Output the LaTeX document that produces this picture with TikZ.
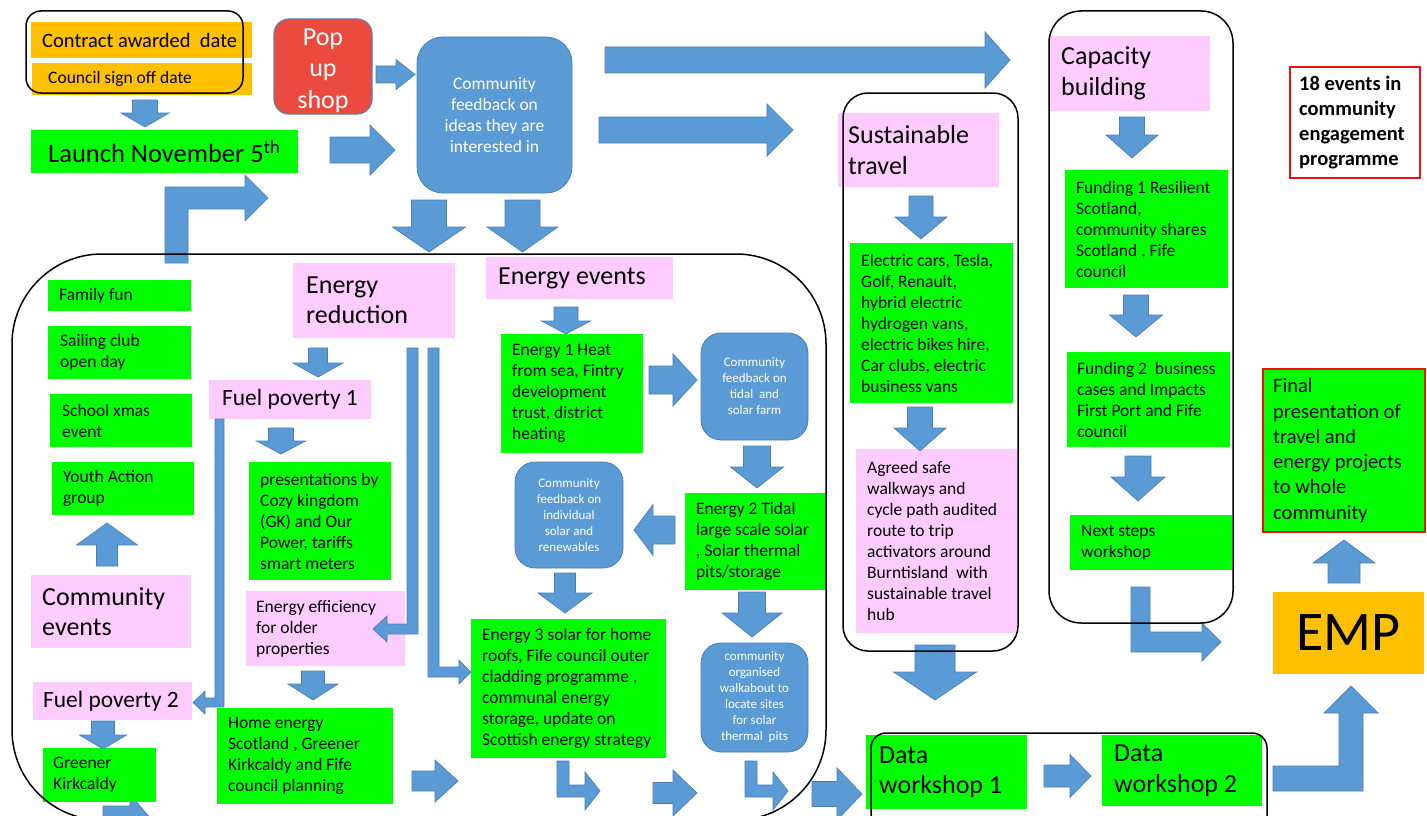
\documentclass[tikz,border=0pt]{standalone}
\usepackage{fontspec}
\setmainfont{Carlito}
\definecolor{boxgreen}{HTML}{00FF00}
\definecolor{boxpink}{HTML}{FFCCFF}
\definecolor{boxorange}{HTML}{FFC000}
\definecolor{arrowblue}{HTML}{5B9BD5}
\definecolor{arrowedge}{HTML}{4A7EBB}
\definecolor{popred}{HTML}{EC4A3E}
\definecolor{popedge}{HTML}{5F7FA8}
\definecolor{framered}{HTML}{F01010}

\tikzset{
  blockarrow/.style={fill=arrowblue, draw=arrowedge, line width=0.7pt, line join=miter},
  frame/.style={draw=black, line width=1.5pt},
  plain/.style={draw=none, inner sep=0pt, outer sep=0pt},
  greenbox/.style={plain, fill=boxgreen},
  pinkbox/.style={plain, fill=boxpink},
  orangebox/.style={plain, fill=boxorange},
  whitered/.style={plain, fill=white, draw=framered, line width=1.2pt},
  greenred/.style={plain, fill=boxgreen, draw=framered, line width=1.2pt},
  bluebox/.style={plain, fill=arrowblue, draw=arrowedge, line width=0.8pt, text=white},
  popbox/.style={plain, fill=popred, draw=popedge, line width=1.2pt, rounded corners=15pt},
  small/.style={font=\fontsize{17.5}{21}\selectfont},
  tinytxt/.style={font=\fontsize{13}{16}\selectfont},
  midtxt/.style={font=\fontsize{23.4}{28}\selectfont},
  large/.style={font=\fontsize{26}{30.5}\selectfont},
  txtcontract/.style={font=\fontsize{20.5}{25}\selectfont},
  txtlaunch/.style={font=\fontsize{26.5}{31}\selectfont},
  txtfinal/.style={font=\fontsize{20.5}{25.3}\selectfont},
  txtbold/.style={font=\fontsize{20.5}{25}\selectfont\bfseries},
}

% horizontal block arrow: shaft start, head base, tip, centre line, half shaft, half head
\newcommand\arrH[6]{\path[blockarrow] (#1,#4-#5) -- (#2,#4-#5) -- (#2,#4-#6) -- (#3,#4) -- (#2,#4+#6) -- (#2,#4+#5) -- (#1,#4+#5) -- cycle;}
% vertical block arrow: same parameters along y
\newcommand\arrV[6]{\path[blockarrow] (#4-#5,#1) -- (#4-#5,#2) -- (#4-#6,#2) -- (#4,#3) -- (#4+#6,#2) -- (#4+#5,#2) -- (#4+#5,#1) -- cycle;}
% filled box with left aligned text: name, x1, y1, x2, y2, box style, text inset, text style, text
\newcommand\tbox[9]{%
  \node[#6, anchor=north west, minimum width={(#4)-(#2)}, minimum height={(#5)-(#3)}] (#1) at (#2,#3) {};
  \node[anchor=west, align=left, inner sep=0pt, #8] (#1-t) at ([xshift=#7pt]#1.west) {#9};}
% box with centred text: name, x1, y1, x2, y2, style, text
\newcommand\cbox[7]{%
  \node[#6, anchor=north west, align=center, minimum width={(#4)-(#2)}, minimum height={(#5)-(#3)}] (#1) at (#2,#3) {#7};}

\begin{document}
\begin{tikzpicture}[x=1pt, y=-1pt]
\useasboundingbox (0,0) rectangle (1427,816);
\clip (0,0) rectangle (1427,816);

% arrow leaving Greener Kirkcaldy (mostly hidden)
\arrH{103}{130}{150}{818}{12}{24}

% ---- start of programme
\tbox{contract}{31}{22}{252}{58}{orangebox}{11}{txtcontract}{Contract awarded\ \ date}
\tbox{signoff}{32}{63}{252}{95}{orangebox}{16}{small}{Council sign off date}
\tbox{launch}{31}{130}{298}{173}{greenbox}{17}{txtlaunch}{Launch November 5\textsuperscript{th}}
\cbox{pop}{274}{19}{372}{114}{popbox}{}
\node[align=center, inner sep=0pt, text=white, font=\fontsize{26}{31.5}\selectfont] (pop-t) at ([yshift=-4pt]pop.center) {Pop\\up\\shop};
\cbox{cf}{417}{37}{572}{193}{bluebox, rounded corners=26pt, small}{Community\\feedback on\\ideas they are\\interested in}

% ---- community events
\tbox{famfun}{48}{280}{191}{311}{greenbox}{11}{small}{Family fun}
\tbox{sailing}{48}{326}{191}{379}{greenbox}{12}{small}{Sailing club\\open day}
\tbox{school}{50}{394}{192}{447}{greenbox}{12}{small}{School xmas\\event}
\tbox{youth}{52}{462}{194}{515}{greenbox}{11}{small}{Youth Action\\group}
\tbox{commev}{31}{575}{191}{648}{pinkbox}{11}{large}{Community\\events}
\tbox{fp2}{33}{682}{192}{720}{pinkbox}{10}{midtxt}{Fuel poverty 2}
\tbox{greener}{43}{748}{156}{802}{greenbox}{10}{small}{Greener\\Kirkcaldy}

% ---- energy reduction
\tbox{ered}{293}{263}{455}{338}{pinkbox}{13}{large}{Energy\\reduction}
\tbox{fp1}{209}{380}{371}{419}{pinkbox}{13}{midtxt}{Fuel poverty 1}
\tbox{pres}{249}{462}{391}{580}{greenbox}{11}{small}{presentations by\\Cozy kingdom\\(GK) and Our\\Power, tariffs\\smart meters}
\tbox{eeff}{246}{591}{405}{666}{pinkbox}{10}{small}{Energy efficiency\\for older\\properties}
\tbox{home}{217}{708}{393}{804}{greenbox}{11}{small}{Home energy\\Scotland , Greener\\Kirkcaldy and Fife\\council planning}

% ---- energy events
\tbox{eev}{486}{257}{673}{299}{pinkbox}{12}{large}{Energy events}
\tbox{e1}{501}{334}{643}{453}{greenbox}{11}{small}{Energy 1 Heat\\from sea, Fintry\\development\\trust, district\\heating}
\cbox{cft}{701}{333}{808}{440}{bluebox, rounded corners=20pt, tinytxt}{Community\\feedback on\\tidal\ \ and\\solar farm}
\tbox{e2}{685}{493}{826}{590}{greenbox}{11}{small}{Energy 2 Tidal\\large scale solar\\, Solar thermal\\pits/storage}
\cbox{cfi}{515}{462}{623}{568}{bluebox, rounded corners=20pt, tinytxt}{Community\\feedback on\\individual\\solar and\\renewables}
\tbox{e3}{471}{619}{666}{758}{greenbox}{11}{small}{Energy 3 solar for home\\roofs, Fife council outer\\cladding programme ,\\communal energy\\storage, update on\\Scottish energy strategy}
\cbox{walk}{701}{643}{808}{752}{bluebox, rounded corners=20pt, tinytxt}{community\\organised\\walkabout to\\locate sites\\for solar\\thermal\ \ pits}

% ---- sustainable travel
\tbox{sust}{838}{113}{999}{187}{pinkbox}{10}{large}{Sustainable\\travel}
\tbox{ecars}{850}{243}{1013}{403}{greenbox}{11}{small}{Electric cars, Tesla,\\Golf, Renault,\\hybrid electric\\hydrogen vans,\\electric bikes hire,\\Car clubs, electric\\business vans}
\tbox{safe}{856}{449}{1017}{633}{pinkbox}{11}{small}{Agreed safe\\walkways and\\cycle path audited\\route to trip\\activators around\\Burntisland\ \ with\\sustainable travel\\hub}

% ---- capacity building
\tbox{cap}{1048}{36}{1210}{111}{pinkbox}{13}{large}{Capacity\\building}
\tbox{fund1}{1065}{170}{1228}{288}{greenbox}{11}{small}{Funding 1 Resilient\\Scotland,\\community shares\\Scotland , Fife\\council}
\tbox{fund2}{1067}{352}{1230}{447}{greenbox}{10}{small}{Funding 2\ \ business\\cases and Impacts\\First Port and Fife\\council}
\tbox{next}{1070}{515}{1232}{570}{greenbox}{11}{small}{Next steps\\workshop}

% ---- outcomes
\tbox{events}{1290}{67}{1420}{178}{whitered}{9}{txtbold}{18 events in\\community\\engagement\\programme}
\tbox{final}{1263}{369}{1425}{532}{greenred}{10}{txtfinal}{Final\\presentation of\\travel and\\energy projects\\to whole\\community}
\cbox{emp}{1273}{592}{1424}{674}{orangebox, font=\fontsize{56}{60}\selectfont}{EMP}
\tbox{dw1}{866}{735}{1027}{809}{greenbox}{13}{large}{Data\\workshop 1}
\tbox{dw2}{1102}{735}{1262}{806}{greenbox}{12}{large}{Data\\workshop 2}

% ---- straight block arrows
\arrV{100}{113}{127}{145}{12.5}{24}
\arrH{376}{396}{415}{74.5}{8.5}{15}
\arrH{330}{370}{395}{150}{13}{25}
\arrV{200}{227}{252}{429}{17.5}{36.5}
\arrV{200}{227}{252}{522.5}{17.5}{35.5}
\arrH{605}{985}{1010}{60}{13}{28}
\arrH{599}{767}{793}{130}{13}{26}
\arrV{348}{363}{377}{318}{9.5}{25}
\arrV{428}{441}{454}{281}{12.5}{24.5}
\arrV{671}{684}{700}{313}{11.5}{25}
\arrH{412}{435}{458}{781}{10}{21}
\arrV{566}{545}{523}{107}{10.5}{30.5}
\arrV{721}{735}{749}{103}{11.5}{23.5}
\arrV{307}{321}{334}{566}{12}{24.5}
\arrH{649}{673}{697}{380}{14}{26}
\arrV{446}{467}{488}{757}{13.5}{26.5}
\arrH{675}{653}{634}{530}{14}{25.5}
\arrV{573}{593}{613}{565}{10.5}{27}
\arrV{592}{613}{637}{752}{13.5}{30}
\arrH{812}{837}{862}{794}{12.5}{26}
\arrH{653}{673}{697}{793}{10.5}{23}
\arrV{196}{217}{239}{921}{12}{26}
\arrV{407}{428}{451}{920}{12.5}{26}
\arrV{645}{672}{700}{935}{20}{41.5}
\arrV{117}{135}{158}{1132}{12.5}{26}
\arrV{295}{315}{337}{1136}{12.5}{26.5}
\arrV{456}{477}{501}{1138}{13}{27}
\arrH{1044}{1070}{1091}{776}{11}{21.5}
\arrV{583}{563}{540}{1344}{16}{31}

% ---- bent block arrows
\path[blockarrow] (165,263) -- (165,187) -- (245,187) -- (245,175) -- (268,198) -- (245,221) -- (245,209) -- (188,209) -- (188,263) -- cycle;
\path[blockarrow] (557,761) -- (569,761) -- (569,785) -- (585,785) -- (585,772) -- (600,791) -- (585,810) -- (585,797) -- (557,797) -- cycle;
\path[blockarrow] (745,761) -- (757,761) -- (757,785) -- (773,785) -- (773,772) -- (788,791) -- (773,810) -- (773,797) -- (745,797) -- cycle;
\path[blockarrow] (1131,587) -- (1150,587) -- (1150,632) -- (1202,632) -- (1202,623) -- (1221,642) -- (1202,661) -- (1202,652) -- (1131,652) -- cycle;
\path[blockarrow] (1273,766) -- (1339,766) -- (1339,713) -- (1324,713) -- (1351,686) -- (1378,713) -- (1363,713) -- (1363,791) -- (1273,791) -- cycle;

% ---- thin bent arrows of the energy reduction strand
\path[blockarrow] (407,348) -- (418,348) -- (418,634) -- (387,634) -- (387,642) -- (373,629) -- (387,616) -- (387,624) -- (407,624) -- cycle;
\path[blockarrow] (428,348) -- (439,348) -- (439,667) -- (459,667) -- (459,660) -- (471,672) -- (459,684) -- (459,677) -- (428,677) -- cycle;
\path[blockarrow] (215,419) -- (224,419) -- (224,707) -- (205,707) -- (205,714) -- (193,702.5) -- (205,691) -- (205,698) -- (215,698) -- cycle;

% ---- group frames
\draw[frame, rounded corners=15pt] (26,11) rectangle (243,93);
\draw[frame, rounded corners=90pt] (12,254) rectangle (826,820);
\draw[frame, rounded corners=25pt] (843,93) rectangle (1018,651);
\draw[frame, rounded corners=32pt] (1049,11) rectangle (1233,623);
\draw[frame, rounded corners=15pt] (871,733) rectangle (1267,840);
\end{tikzpicture}
\end{document}
